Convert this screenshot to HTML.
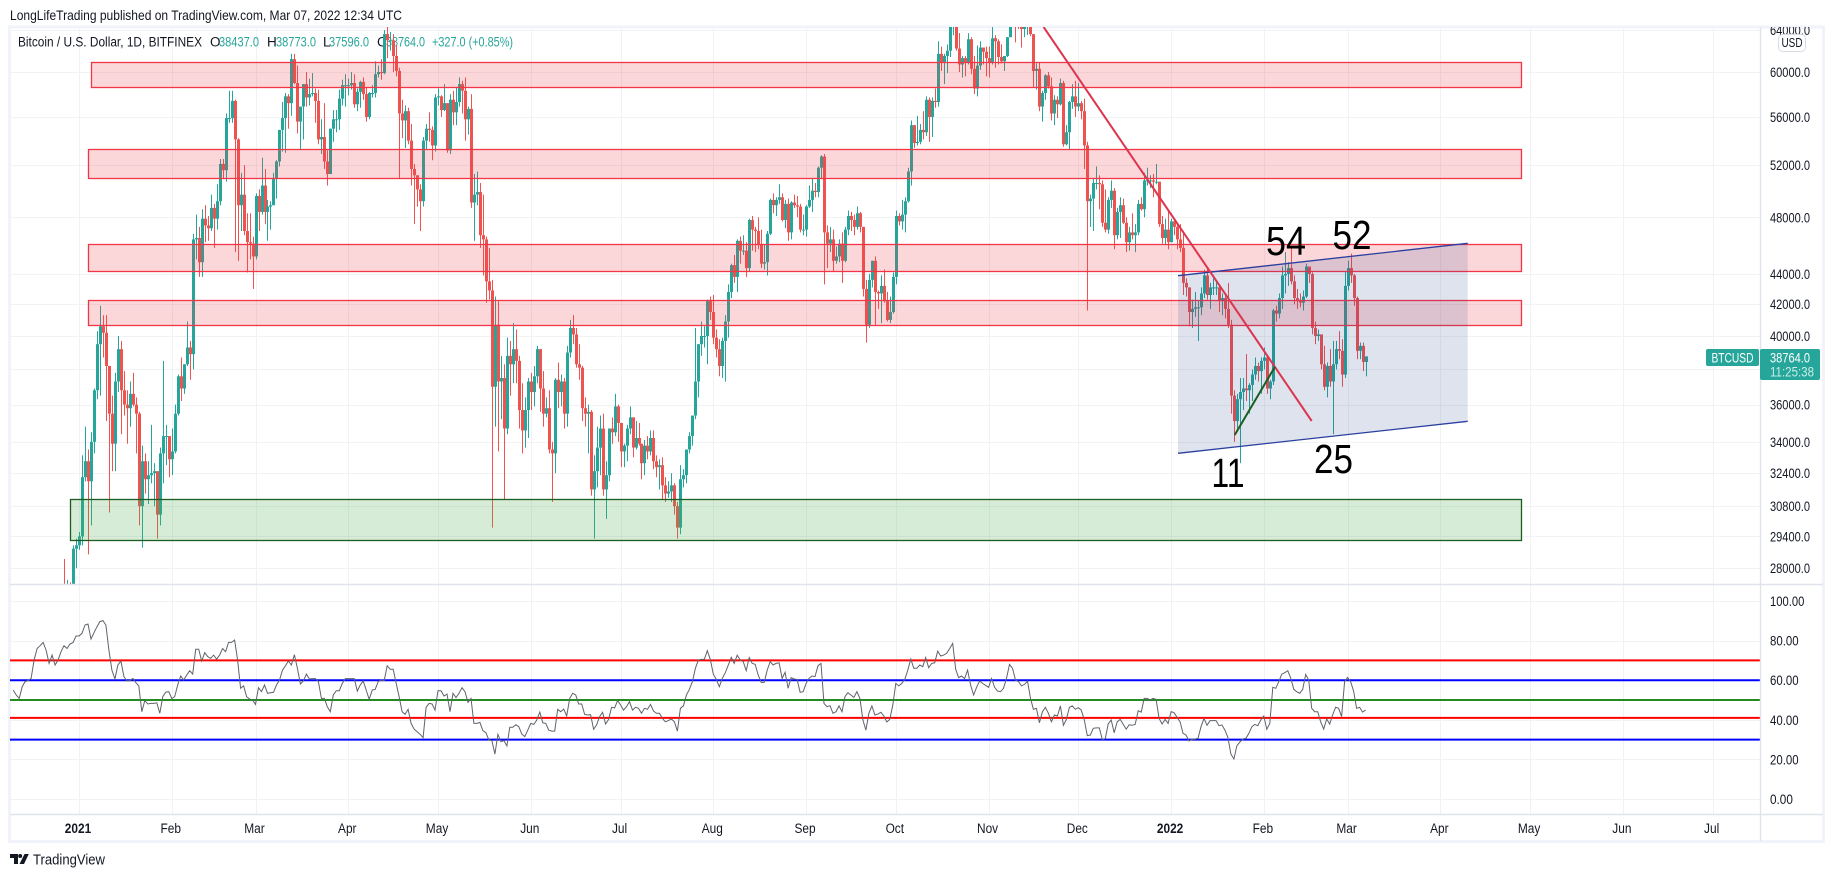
<!DOCTYPE html>
<html lang="en">
<head>
<meta charset="utf-8">
<title>BTCUSD chart</title>
<style>
html,body{margin:0;padding:0;background:#fff;width:1834px;height:877px;overflow:hidden}
svg{display:block;font-family:"Liberation Sans",sans-serif}
</style>
</head>
<body>
<svg id="chart" xmlns="http://www.w3.org/2000/svg" width="1834" height="877" viewBox="0 0 1834 877">
<defs>
<clipPath id="main-clip"><rect x="10" y="27" width="1750" height="557"/></clipPath>
<clipPath id="axis-clip"><rect x="1761" y="27" width="62" height="557"/></clipPath>
</defs>
<rect x="9.5" y="27" width="1814" height="814.5" fill="#fff" stroke="#f0f3fa" stroke-width="3"/>
<g id="grid"></g>
<text x="10" y="20" font-size="14" fill="#131722" textLength="392" lengthAdjust="spacingAndGlyphs">LongLifeTrading published on TradingView.com, Mar 07, 2022 12:34 UTC</text>
<g font-size="13.5" fill="#131722">
<text x="18" y="46.5" textLength="184" lengthAdjust="spacingAndGlyphs">Bitcoin / U.S. Dollar, 1D, BITFINEX</text>
<text x="210" y="46.5">O</text>
<text x="219" y="46.5" fill="#26a69a" textLength="40" lengthAdjust="spacingAndGlyphs">38437.0</text>
<text x="267" y="46.5">H</text>
<text x="276" y="46.5" fill="#26a69a" textLength="40" lengthAdjust="spacingAndGlyphs">38773.0</text>
<text x="323" y="46.5">L</text>
<text x="329" y="46.5" fill="#26a69a" textLength="40" lengthAdjust="spacingAndGlyphs">37596.0</text>
<text x="377" y="46.5">C</text>
<text x="386" y="46.5" fill="#26a69a" textLength="39" lengthAdjust="spacingAndGlyphs">38764.0</text>
<text x="432" y="46.5" fill="#26a69a" textLength="81" lengthAdjust="spacingAndGlyphs">+327.0 (+0.85%)</text>
</g>
<g id="candles" clip-path="url(#main-clip)"></g>
<g clip-path="url(#main-clip)">
<rect x="91.5" y="62.5" width="1430" height="25" fill="#f23645" fill-opacity=".2" stroke="#f23645" stroke-width="1.3"/>
<rect x="88.5" y="149.5" width="1433" height="29" fill="#f23645" fill-opacity=".2" stroke="#f23645" stroke-width="1.3"/>
<rect x="88.5" y="244.5" width="1433" height="27" fill="#f23645" fill-opacity=".2" stroke="#f23645" stroke-width="1.3"/>
<rect x="88.5" y="300.5" width="1433" height="25" fill="#f23645" fill-opacity=".2" stroke="#f23645" stroke-width="1.3"/>
<rect x="70.5" y="499.5" width="1451" height="41" fill="#4caf50" fill-opacity=".23" stroke="#1b5e20" stroke-width="1.3"/>
<polygon points="1178,275.7 1467.7,243.3 1467.7,421.3 1178,453.3" fill="#27408b" fill-opacity=".15"/>
<line x1="1178" y1="275.7" x2="1467.7" y2="243.3" stroke="#2a3f9f" stroke-width="1.3"/>
<line x1="1178" y1="453.3" x2="1467.7" y2="421.3" stroke="#2a3f9f" stroke-width="1.3"/>
<line x1="1043.6" y1="27" x2="1311.7" y2="421" stroke="#dc3550" stroke-width="2"/>
<line x1="1234.7" y1="435" x2="1275" y2="366.7" stroke="#1b5e20" stroke-width="2"/>
<text x="1228" y="487" font-size="41" fill="#000" text-anchor="middle" textLength="33" lengthAdjust="spacingAndGlyphs">11</text>
<text x="1286" y="255" font-size="41" fill="#000" text-anchor="middle" textLength="40" lengthAdjust="spacingAndGlyphs">54</text>
<text x="1352" y="249" font-size="41" fill="#000" text-anchor="middle" textLength="39" lengthAdjust="spacingAndGlyphs">52</text>
<text x="1333.5" y="473" font-size="41" fill="#000" text-anchor="middle" textLength="39" lengthAdjust="spacingAndGlyphs">25</text>
</g>
<g id="rsi"></g>
<g id="axes"></g>
<g>
<rect x="1778.5" y="34.5" width="27" height="17" rx="4" fill="#fff" stroke="#d9dce3"/>
<text x="1792" y="47" font-size="13" fill="#131722" text-anchor="middle" textLength="21" lengthAdjust="spacingAndGlyphs">USD</text>
</g>
<g>
<rect x="1706" y="349" width="53" height="17" rx="2" fill="#26a69a"/>
<text x="1732.5" y="362.5" font-size="13.5" fill="#fff" text-anchor="middle" textLength="42" lengthAdjust="spacingAndGlyphs">BTCUSD</text>
<rect x="1760" y="349" width="60" height="31" rx="2" fill="#26a69a"/>
<text x="1770" y="362.5" font-size="13.5" fill="#fff" textLength="40" lengthAdjust="spacingAndGlyphs">38764.0</text>
<text x="1770" y="376.5" font-size="13.5" fill="#c9ece8" textLength="44" lengthAdjust="spacingAndGlyphs">11:25:38</text>
</g>
<g>
<polygon points="10,854 18,854 18,864 14,864 14,858 10,858" fill="#131722"/>
<circle cx="20.2" cy="856" r="2" fill="#131722"/>
<polygon points="24.5,854 28.8,854 24,864 19.5,864" fill="#131722"/>
<text x="33" y="864.5" font-size="15" fill="#131722" textLength="72" lengthAdjust="spacingAndGlyphs">TradingView</text>
</g>
</svg>
<script>
// Candles run daily from 27 Dec 2020; prices in thousands of USD.
const firstOpenK = 26.5;
const closeK = [
26.3,27.05,27.0,28.85,29.0,
29.4,32.2,33.0,32.0,34.0,36.8,39.5,40.6,40.2,38.2,35.5,33.9,37.3,39.2,36.8,36.0,35.8,36.6,36.0,35.5,30.8,33.0,32.1,32.3,32.4,32.5,30.4,33.4,34.3,34.3,33.1,
33.5,35.5,37.6,36.9,38.3,39.3,38.9,46.4,46.5,44.8,47.9,47.4,47.2,48.7,47.9,49.2,52.1,51.6,55.9,55.9,57.4,54.1,48.9,49.7,47.0,46.2,46.1,45.2,
49.6,48.4,50.4,48.4,48.8,48.9,50.9,52.3,54.9,55.9,57.8,57.2,61.2,59.0,55.6,56.9,58.9,57.7,58.0,58.1,57.4,54.1,54.3,52.3,51.3,55.0,55.8,55.8,57.6,58.8,58.8,
58.8,59.0,57.1,58.2,59.1,58.0,56.0,58.1,58.1,59.8,60.0,59.9,63.6,63.0,63.0,61.5,60.1,56.3,55.7,56.5,54.0,51.7,51.2,50.1,49.2,54.0,55.0,54.9,53.6,57.7,
57.8,56.6,57.2,53.2,57.5,56.4,57.3,58.9,58.3,55.8,56.7,49.1,49.7,49.9,46.7,46.4,43.5,42.9,37.0,40.7,37.3,37.5,34.7,38.8,38.3,39.2,38.5,35.7,34.6,35.7,37.3,
36.7,37.6,39.2,36.9,35.5,35.8,33.6,33.4,37.4,36.7,37.3,35.5,39.0,40.5,40.1,38.3,38.1,35.8,35.5,35.6,31.6,32.5,33.7,34.7,31.6,32.3,34.7,34.5,35.9,35.0,
33.5,33.8,34.7,35.3,33.7,34.2,33.9,32.9,33.8,33.5,34.2,33.0,32.7,32.8,31.8,31.4,31.5,31.8,30.8,29.8,32.1,32.3,33.6,34.3,35.4,37.3,39.5,40.0,40.0,42.2,41.5,
39.9,39.2,38.2,39.7,40.9,42.8,44.6,43.8,46.3,45.6,45.6,44.4,47.8,47.1,47.0,46.0,44.7,44.8,46.8,49.3,48.9,49.3,49.5,47.8,49.0,46.9,49.1,48.9,48.8,47.1,47.1,
48.8,49.3,50.0,49.9,51.8,52.7,46.9,46.1,46.4,44.9,45.2,46.1,44.9,47.1,48.1,47.8,47.3,48.3,47.3,43.0,40.7,43.6,44.9,42.8,42.7,43.2,42.2,41.0,41.5,43.8,
48.1,47.7,48.2,49.2,51.5,55.3,53.8,53.9,54.9,54.7,57.5,56.0,57.4,57.3,61.7,60.9,61.5,62.0,64.3,66.0,62.2,60.7,61.3,60.9,63.1,60.3,58.5,60.6,62.3,61.9,61.3,
60.9,63.2,62.9,61.4,61.0,61.5,63.3,67.5,66.9,64.9,64.8,64.1,64.4,65.5,63.6,60.1,60.3,56.9,58.1,59.7,58.7,56.3,57.5,57.1,59.0,53.7,54.7,57.3,57.8,56.9,
57.2,56.5,53.6,49.2,49.4,50.6,50.6,50.5,47.6,47.1,49.3,50.0,46.7,48.4,48.9,47.6,46.2,46.9,46.7,46.9,49.0,48.6,50.8,50.8,50.8,50.7,50.7,47.5,46.5,47.1,46.2,
47.7,47.3,46.4,45.8,43.4,43.1,41.5,41.7,41.8,41.8,42.7,43.9,42.6,43.1,43.1,43.1,42.2,42.4,41.7,40.7,36.5,35.1,36.3,36.7,36.9,36.8,37.1,37.7,38.2,37.9,38.5,
38.7,36.9,37.3,41.6,41.4,42.4,43.9,44.0,44.4,43.5,42.4,42.2,42.1,42.5,44.5,44.0,40.5,40.0,40.1,38.3,37.0,38.2,37.3,38.3,39.2,39.1,37.7,43.2,
44.4,43.9,42.4,39.1,39.4,38.437,38.764
];
const highK = [
28.4,27.5,27.4,29.0,29.3,
29.6,33.3,34.8,33.6,34.5,36.9,40.3,41.9,41.3,41.3,38.2,36.5,37.8,40.0,39.7,37.9,36.8,37.3,37.8,36.4,35.6,33.8,33.4,33.0,34.9,32.9,32.5,33.7,38.5,34.9,34.3,
34.7,36.0,37.7,38.7,38.3,40.9,39.7,46.8,48.2,47.3,48.6,48.9,48.1,49.7,49.0,50.5,52.5,52.5,56.3,58.3,58.3,57.5,54.2,51.4,52.0,48.3,48.3,46.6,
49.8,50.1,52.6,51.7,49.3,49.2,51.4,52.4,54.8,57.3,58.1,58.0,61.7,61.7,60.6,56.9,58.9,60.0,59.4,59.9,58.5,58.4,55.8,57.2,53.2,55.0,56.6,56.6,58.4,59.3,59.8,
59.4,60.0,59.8,58.5,59.2,59.5,58.6,58.2,58.8,61.0,60.6,61.2,64.0,64.9,63.8,63.6,62.5,60.4,57.5,57.0,56.8,55.4,52.1,51.2,50.5,54.3,55.4,56.4,55.2,58.0,
58.5,57.9,58.9,57.2,58.0,58.3,58.6,59.5,59.2,59.5,56.9,58.0,51.3,51.5,50.6,49.7,46.6,45.8,43.6,42.5,42.2,38.8,38.3,39.9,39.7,40.8,40.4,38.8,37.2,36.4,37.5,
37.8,38.2,39.4,39.2,37.9,36.4,36.8,34.0,37.5,38.4,37.7,37.5,39.4,41.0,41.3,40.5,39.5,38.2,36.4,36.0,35.7,33.3,34.8,35.4,35.5,33.0,34.7,35.3,36.6,36.0,
35.0,33.9,34.9,35.9,35.3,35.1,35.0,33.9,34.1,34.3,34.6,34.6,33.3,33.1,33.2,32.2,32.0,32.4,31.9,31.0,32.8,32.6,33.6,34.5,35.4,40.5,39.5,40.9,40.6,42.3,42.5,
42.6,40.4,39.8,39.9,41.3,43.3,44.7,45.3,46.4,46.6,46.7,46.2,47.9,48.1,47.3,48.0,47.1,46.0,47.0,49.4,49.8,49.5,50.5,49.8,49.3,49.4,49.2,49.7,49.6,49.0,48.2,
48.9,50.4,51.0,50.6,51.9,52.8,52.9,47.4,47.3,47.1,45.9,46.4,46.9,47.3,48.5,48.4,48.2,48.8,48.4,47.3,43.6,44.0,44.9,45.2,42.9,43.9,44.3,42.8,42.5,44.1,
48.5,48.3,49.3,49.5,51.8,55.7,55.3,56.1,55.4,56.5,57.8,57.7,57.7,58.5,62.9,62.4,61.7,62.6,64.4,67.0,66.6,63.7,61.5,61.5,63.7,63.3,61.5,62.5,62.9,62.3,62.4,
62.4,64.3,63.5,63.1,62.6,61.5,63.3,67.8,68.5,69.0,65.6,65.4,65.0,65.5,66.3,63.6,60.8,60.9,58.3,59.8,60.0,59.5,57.9,57.8,59.4,59.2,55.3,57.4,58.9,59.2,
59.0,57.4,57.6,53.9,49.7,50.9,51.9,51.2,50.8,50.1,49.5,50.8,50.2,48.7,49.5,49.4,48.0,47.3,48.3,47.5,49.3,49.5,51.4,51.8,51.2,51.3,52.1,50.7,48.1,47.9,48.5,
47.9,47.9,47.5,47.5,47.0,43.7,43.1,42.3,42.8,42.2,43.1,44.3,44.4,43.4,43.7,43.5,43.2,42.7,42.6,43.4,41.0,36.8,36.6,37.5,37.5,38.9,37.2,38.0,38.7,38.4,38.7,
39.3,38.8,37.4,41.7,41.9,42.7,44.5,45.5,44.8,45.8,43.9,43.0,42.7,42.9,44.7,44.5,44.1,40.9,40.4,40.1,39.4,38.4,39.2,39.7,39.7,40.3,39.8,44.2,
44.9,45.4,44.0,42.5,39.6,39.6,38.773
];
const lowK = [
25.9,26.1,25.9,27.0,28.0,
28.8,29.0,32.0,28.6,29.9,33.4,36.3,36.5,38.7,35.1,30.5,32.5,32.5,36.7,34.4,35.4,33.9,34.8,35.9,33.4,29.9,28.9,31.4,30.9,31.9,30.8,29.3,29.9,31.9,32.8,32.2,
32.3,33.4,35.4,36.2,36.6,38.2,37.4,38.0,45.0,43.8,43.8,46.2,46.3,47.0,45.8,47.1,48.9,50.9,50.7,55.5,55.5,45.5,44.9,47.0,46.7,44.1,45.0,43.0,
45.0,47.0,48.2,47.5,46.3,47.1,48.9,49.4,51.9,53.1,53.0,55.0,56.1,58.9,54.6,53.3,54.1,56.9,57.0,57.8,55.5,53.7,52.9,51.7,50.4,51.3,53.9,54.7,54.9,57.0,56.9,
57.9,58.4,56.8,56.5,56.8,57.5,55.6,55.8,57.7,57.7,59.5,59.3,59.8,61.3,62.0,60.0,59.6,50.9,54.2,53.4,53.7,50.4,47.5,48.8,47.0,48.8,53.3,53.9,52.4,53.1,
57.0,56.0,56.5,53.0,52.9,55.3,55.3,56.9,56.3,54.0,54.5,48.7,46.3,48.9,45.8,43.9,42.1,42.3,29.8,34.8,33.5,35.2,31.1,34.4,36.5,37.2,37.2,34.7,33.4,33.7,34.2,
35.7,35.9,37.2,35.6,34.8,35.3,33.4,31.0,32.4,35.8,35.9,34.7,34.8,38.7,39.5,38.1,37.4,35.1,34.8,33.4,31.3,29.3,31.7,32.3,31.3,30.2,32.0,33.9,34.3,34.0,
32.7,32.7,33.0,34.4,33.2,33.6,33.8,32.1,32.3,33.1,33.3,32.6,32.2,31.6,31.1,31.0,31.2,31.0,30.4,29.3,29.5,31.7,31.9,33.4,33.8,35.2,36.4,38.8,39.3,38.3,41.0,
39.5,38.7,37.6,37.5,37.3,39.9,42.4,43.4,42.8,44.7,45.3,43.8,44.2,45.6,45.5,45.7,44.4,44.3,43.9,46.7,48.3,48.1,49.0,47.7,47.2,46.3,46.4,48.7,48.0,46.9,46.7,
46.6,48.7,48.4,49.5,49.5,50.9,43.3,44.4,45.5,44.2,44.7,44.8,43.4,44.8,46.7,47.0,46.7,47.1,46.9,42.5,39.6,40.5,43.1,40.7,41.7,40.8,42.1,40.9,40.8,41.4,
43.3,47.4,47.1,46.9,49.1,50.4,53.4,53.6,53.7,54.1,54.4,53.9,54.3,56.8,56.9,60.1,58.9,59.9,61.4,63.5,62.0,60.0,59.5,59.6,60.7,59.8,58.0,57.8,60.2,60.7,59.6,
59.5,60.7,60.4,60.7,60.8,60.1,61.4,63.3,66.3,62.8,64.1,62.3,63.3,63.5,63.4,58.6,58.4,56.5,55.6,57.5,58.5,55.7,55.3,55.9,57.0,53.5,53.6,53.3,56.7,56.0,
56.5,55.8,51.7,41.6,47.3,47.0,50.1,48.6,47.3,46.9,46.8,48.7,45.7,46.4,46.5,47.5,45.5,45.6,46.4,45.5,46.7,48.5,48.0,50.4,50.2,49.5,50.5,47.3,46.1,46.0,45.7,
46.2,46.7,45.7,45.5,42.6,42.5,40.6,40.5,41.2,39.7,41.3,42.4,42.3,41.7,42.6,42.6,41.5,41.3,41.1,40.5,35.5,34.0,34.7,32.9,35.7,36.2,35.5,36.2,37.4,37.3,36.6,
38.0,36.6,36.3,37.1,40.9,41.1,41.7,42.7,43.2,43.3,42.0,41.7,41.8,41.6,42.4,43.4,40.1,39.5,39.7,38.0,36.8,36.4,37.0,34.4,38.0,38.6,37.0,37.5,
42.9,43.4,41.9,38.6,38.6,37.9,37.596
];
const firstCandleDay = -5;   // days relative to 1 Jan 2021
const rsiValues = [
55,52.5,50.8,56.7,59.3,59.8,60.9,70.2,76,77.4,79.1,75.2,68.5,72.7,67.7,70.2,74.4,77.4,76,78.3,79,82.3,82.3,83.7,87.9,88.4,80.8,84,87,89.6,90.1,87.9,75.2,65.1,60.6,67.7,69.7,61.8,59.6,59.8,60.9,58.8,57.1,44.1,49.7,48,48.3,48.3,48.6,43.3,51.7,54,54.2,50.7,51.7,57.6,62.1,60.1,62.6,64.8,63.1,75.6,75.6,69.7,73.9,71.9,71,72.7,70.7,72.7,76,74.4,79.1,79.1,80.3,70.2,55.9,57.1,51.7,50.5,50,47.8,56.2,54.2,57.6,53.4,53.7,53.9,57.6,60.1,65.1,67.2,69.7,67.7,72.9,66,58.1,59.6,63.1,60.6,60.8,60.8,59.3,50.8,50.8,46.6,44.1,52.5,54.7,54.7,58.4,60.8,60.8,60.8,60.8,54.5,57.6,59.6,55,50.3,55,55.4,59.3,60.1,59.8,67.3,65.5,65.5,58.4,51.7,44.1,42.8,45.3,38.2,35.3,34,32.7,31,46.3,48.3,48,44.9,54.7,54.7,52,53,44.1,53.4,51.2,53.4,56.2,54.2,48.8,50.8,38.2,38.2,38.7,34.5,33.5,29.8,29.5,22.7,32.7,29,29.5,26.8,36.2,36.2,37.5,36.5,32.8,31.5,34.8,38.2,37.7,39.9,43.9,38.5,38.2,34.8,34.3,34.3,45.3,44.1,45.4,41.9,50.8,53.4,52.5,48,48,42.8,42.4,42.6,35.2,37.4,41.6,43.8,37.9,40.2,46.3,46,49.7,47.5,
44.9,46.6,49.2,44.9,46.3,45.8,43.3,45.8,45.3,47.8,44.4,43.3,43.3,40.7,39,39.6,40.4,39,34.3,45.8,47,52.5,55.4,59.3,66,70.2,70.5,70.5,74.9,70.5,63.1,60.4,56.7,60.9,63.8,67.7,71.5,68.5,72.7,70.2,69.4,64.8,71.4,68.5,68,62.6,58.9,58.9,65.1,69.4,67.7,68.5,68.8,60.9,64,55.9,61.3,60.6,60.4,53.9,54.2,58.4,60.9,62.1,61.8,67.3,68.5,48.3,46.6,47.1,43.3,44.1,47,44.1,51.7,53.7,52.5,51.3,54.2,50.8,39.9,34.8,43.3,47,42.4,42.9,43.8,41.9,38.9,40.2,47.5,58.4,57.1,58.4,60.4,65.1,70.7,66,66,67.7,66.8,71.4,66.3,68.5,68.8,74.7,72.2,72.7,73.6,76,78.6,65.5,61.3,62.1,60.8,65.1,57.6,52.5,56.4,59.6,58.4,57.4,56.4,60.9,56.4,54.5,54.2,55.9,60.9,68,66,60.1,59.3,57.1,57.9,59.6,50.8,45.3,45.8,38.5,44.1,46.3,43.3,39,42.4,41.9,47,37.2,40.2,46.3,47,45.3,46.1,44.9,39.9,32,32.3,35.7,35.9,35.9,30.1,30.5,37.9,39.9,33.5,39,40.2,37.7,35.3,37.5,37.2,37.7,44.6,43.9,50.8,50.8,50,50.8,50.3,40.7,37.9,40.2,38.2,44.1,43.6,41.2,39,33.2,32.3,29.3,30.1,30.3,30.6,36.5,40.7,37.2,39.6,39.6,39.6,37,37.4,34.8,31.1,22.7,20.2,26.9,28.8,
30.3,30.6,33.2,36.5,37.7,37,39.9,41.9,35.2,38.2,56.4,55.9,59.3,63.1,63.8,64.8,60.9,55.4,54.2,53.4,55.4,62.9,60.1,45.8,44.1,44.1,39,35.3,40.4,37.9,42.4,46.3,45.8,41.6,59.3,61.4,59.3,54.5,45.8,46.3,43.9,44.9
];
const rsiLevels = [70,60,50,41,30];
const rsiLevelNames = ['overbought-level','upper-level','mid-level','lower-level','oversold-level'];
const rsiLevelColors = ['#ff0000','#0000ff','#228b22','#ff0000','#0000ff'];
const rsiTicks = [100,80,60,40,20,0];
const priceTicks = [64000,60000,56000,52000,48000,44000,42000,40000,38000,36000,34000,32400,30800,29400,28000];
const hiddenPriceLabels = [38000];
const monthLabels = ['2021','Feb','Mar','Apr','May','Jun','Jul','Aug','Sep','Oct','Nov','Dec','2022','Feb','Mar','Apr','May','Jun','Jul'];
const monthDays = [0,31,59,90,120,151,181,212,243,273,304,334,365,396,424,455,485,516,546];

const NS = 'http://www.w3.org/2000/svg';
const xOfDay = d => 79 + 2.992 * d;
const yOfPrice = p => 336 - 651 * Math.log(p / 40000);
const yOfRsi = v => 799 - 1.98 * v;
const UP = '#26a69a', DOWN = '#ef5350';

function node(parent, tag, attrs) {
  const el = document.createElementNS(NS, tag);
  for (const k in attrs) el.setAttribute(k, attrs[k]);
  parent.appendChild(el);
  return el;
}

const grid = document.getElementById('grid');
const axes = document.getElementById('axes');
const candles = document.getElementById('candles');
const rsiPane = document.getElementById('rsi');

priceTicks.forEach(p => {
  const y = Math.round(yOfPrice(p)) + .5;
  const line = node(grid, 'line', {x1: 10, x2: 1760, y1: y, y2: y, stroke: '#f1f2f5'});
  
  
});
rsiTicks.forEach(v => {
  const y = Math.round(yOfRsi(v)) + .5;
  const line = node(grid, 'line', {x1: 10, x2: 1760, y1: y, y2: y, stroke: '#f1f2f5'});
  
  
});
monthDays.forEach(d => {
  const x = Math.round(xOfDay(d)) + .5;
  const line = node(grid, 'line', {x1: x, x2: x, y1: 27, y2: 814, stroke: '#f1f2f5'});
  
  
});

closeK.forEach((c, i) => {
  const o = i === 0 ? firstOpenK : closeK[i - 1];
  const h = highK[i], l = lowK[i];
  const x = Math.round(xOfDay(firstCandleDay + i));
  const color = c >= o ? UP : DOWN;
  const wick = node(candles, 'rect', {x: x, y: yOfPrice(h * 1000), width: 1, height: yOfPrice(l * 1000) - yOfPrice(h * 1000), fill: color});
  
  
  const top = yOfPrice(Math.max(o, c) * 1000), bot = yOfPrice(Math.min(o, c) * 1000);
  const body = node(candles, 'rect', {x: x - 1, y: top, width: 3, height: Math.max(1, bot - top), fill: color});
  
  
});

rsiLevels.forEach((v, i) => {
  const y = yOfRsi(v);
  const line = node(rsiPane, 'line', {x1: 10, x2: 1760, y1: y, y2: y, stroke: rsiLevelColors[i], 'stroke-width': 2});
  
  
});
const lastDay = firstCandleDay + closeK.length - 1;
const rsiStart = lastDay - (rsiValues.length - 1);
const rsiPoints = rsiValues.map((v, i) => xOfDay(rsiStart + i).toFixed(1) + ',' + yOfRsi(v).toFixed(1)).join(' ');
const rsiLine = node(rsiPane, 'polyline', {points: rsiPoints, fill: 'none', stroke: '#5f636b', 'stroke-width': 1});



[['price-axis-line',1760.5,27,1760.5,841],['pane-divider',10,584.5,1823,584.5],['time-axis-line',10,814.5,1823,814.5]].forEach(a => {
  const line = node(axes, 'line', {x1: a[1], y1: a[2], x2: a[3], y2: a[4], stroke: '#e0e3eb', 'stroke-width': 1.4});
  
  
});

const priceLabels = node(axes, 'g', {'clip-path': 'url(#axis-clip)'});


priceTicks.filter(p => !hiddenPriceLabels.includes(p)).forEach(p => {
  const t = node(priceLabels, 'text', {x: 1770, y: yOfPrice(p) + 5, 'font-size': 13.5, fill: '#131722', textLength: 40, lengthAdjust: 'spacingAndGlyphs'});
  t.textContent = p.toFixed(1);
  
  
});
rsiTicks.forEach(v => {
  const s = v.toFixed(2);
  const t = node(axes, 'text', {x: 1770, y: yOfRsi(v) + 5, 'font-size': 13.5, fill: '#131722', textLength: s.length * 5.72, lengthAdjust: 'spacingAndGlyphs'});
  t.textContent = s;
  
  
});
monthLabels.forEach((m, i) => {
  const t = node(axes, 'text', {x: xOfDay(monthDays[i]) - 1, y: 833, 'font-size': 13.5, fill: '#131722', 'text-anchor': 'middle'});
  if (/^\d/.test(m)) t.setAttribute('font-weight', 'bold');
  t.textContent = m;
  t.setAttribute('textLength', (t.getComputedTextLength() * 0.88).toFixed(1));
  t.setAttribute('lengthAdjust', 'spacingAndGlyphs');
  
  
});
</script>
</body>
</html>
